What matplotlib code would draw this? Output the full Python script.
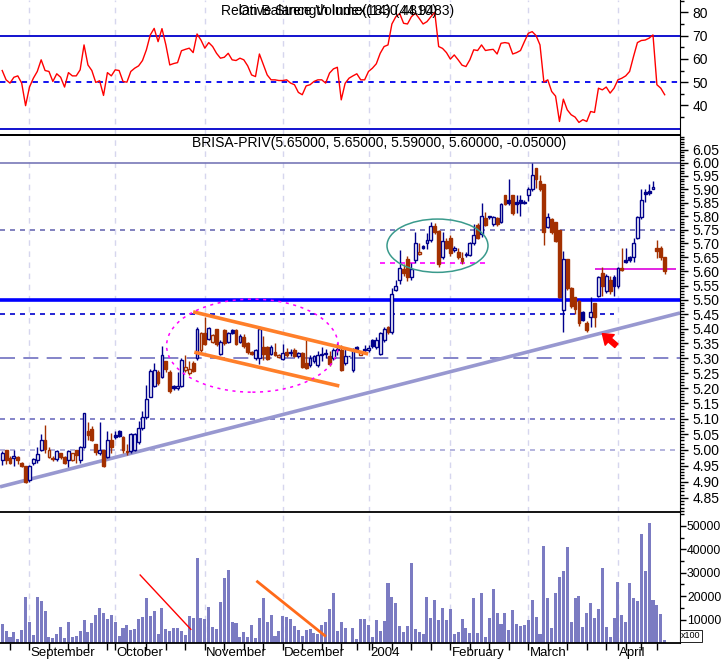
import numpy as np
import matplotlib
matplotlib.use("Agg")
import matplotlib.pyplot as plt
from matplotlib.patches import Ellipse
from matplotlib.ticker import NullFormatter
import matplotlib.transforms as mtrans

plt.rcParams['font.family'] = ['Liberation Sans', 'DejaVu Sans']

# ---------------- data ----------------
ohlc = [
 (4.968,4.997,4.952,4.989),(4.999,5.000,4.955,4.968),(4.975,4.980,4.955,4.958),(4.975,4.998,4.948,4.980),
 (4.978,4.982,4.955,4.968),(4.958,4.962,4.945,4.949),(4.948,4.950,4.897,4.900),(4.905,4.952,4.900,4.950),
 (4.957,4.975,4.952,4.970),(4.969,5.010,4.960,4.988),(4.999,5.050,4.995,5.031),(5.031,5.078,4.990,5.002),
 (4.978,5.010,4.975,4.999),(4.974,4.980,4.965,4.970),(4.970,4.998,4.965,4.997),(4.989,4.990,4.970,4.978),
 (4.978,4.980,4.955,4.958),(4.968,5.000,4.947,4.997),(4.968,4.990,4.965,4.989),(4.999,5.000,4.960,4.985),
 (4.968,5.012,4.958,5.010),(5.010,5.120,5.005,5.119),(5.060,5.090,5.030,5.047),(5.068,5.075,5.028,5.031),
 (5.018,5.020,4.985,4.993),(4.990,5.090,4.985,4.998),(4.999,5.000,4.945,4.948),(4.978,5.060,4.975,5.031),
 (5.031,5.055,4.990,5.010),(5.047,5.060,5.035,5.042),(5.060,5.062,5.040,5.045),(5.042,5.045,4.990,5.001),
 (4.995,5.020,4.985,4.992),(4.995,5.055,4.990,5.050),(5.000,5.055,4.995,5.052),(5.026,5.092,5.020,5.070),
 (5.070,5.126,5.065,5.104),(5.104,5.210,5.100,5.165),(5.172,5.265,5.170,5.257),(5.208,5.285,5.205,5.260),
 (5.255,5.260,5.210,5.216),(5.237,5.342,5.232,5.312),(5.290,5.290,5.255,5.262),(5.255,5.260,5.185,5.190),
 (5.207,5.210,5.195,5.200),(5.200,5.255,5.195,5.206),(5.207,5.300,5.205,5.295),(5.260,5.310,5.255,5.270),
 (5.250,5.290,5.245,5.262),(5.283,5.290,5.255,5.258),(5.300,5.405,5.295,5.400),(5.326,5.390,5.320,5.385),
 (5.385,5.440,5.345,5.348),(5.365,5.405,5.360,5.403),(5.354,5.380,5.350,5.378),(5.400,5.400,5.340,5.348),
 (5.315,5.360,5.310,5.354),(5.395,5.400,5.345,5.350),(5.354,5.390,5.350,5.385),(5.395,5.400,5.380,5.386),
 (5.395,5.400,5.345,5.348),(5.356,5.380,5.350,5.376),(5.372,5.380,5.335,5.341),(5.350,5.355,5.315,5.322),
 (5.322,5.325,5.310,5.315),(5.300,5.330,5.295,5.327),(5.302,5.410,5.280,5.400),(5.339,5.376,5.294,5.315),
 (5.337,5.340,5.295,5.298),(5.315,5.345,5.310,5.339),(5.320,5.350,5.306,5.311),(5.303,5.315,5.300,5.309),
 (5.298,5.346,5.295,5.317),(5.320,5.334,5.305,5.311),(5.318,5.330,5.306,5.320),(5.327,5.335,5.305,5.308),
 (5.306,5.320,5.300,5.317),(5.317,5.320,5.268,5.270),(5.285,5.360,5.265,5.268),(5.276,5.310,5.270,5.300),
 (5.290,5.310,5.285,5.306),(5.276,5.325,5.270,5.310),(5.312,5.336,5.290,5.315),(5.314,5.330,5.300,5.316),
 (5.306,5.325,5.275,5.279),(5.300,5.335,5.295,5.328),(5.329,5.350,5.310,5.330),(5.328,5.343,5.257,5.259),
 (5.282,5.330,5.278,5.306),(5.306,5.306,5.306,5.306),(5.259,5.335,5.255,5.328),(5.338,5.340,5.325,5.330),
 (5.311,5.325,5.310,5.322),(5.328,5.345,5.320,5.331),(5.328,5.345,5.320,5.334),(5.360,5.365,5.335,5.340),
 (5.338,5.370,5.330,5.362),(5.315,5.390,5.310,5.385),(5.360,5.405,5.355,5.400),(5.405,5.410,5.380,5.388),
 (5.390,5.540,5.380,5.520),(5.535,5.570,5.530,5.550),(5.568,5.675,5.555,5.612),(5.610,5.625,5.585,5.595),
 (5.645,5.655,5.565,5.580),(5.580,5.630,5.570,5.610),(5.640,5.740,5.630,5.700),(5.663,5.700,5.660,5.671),
 (5.690,5.695,5.680,5.685),(5.703,5.738,5.680,5.711),(5.711,5.778,5.705,5.762),(5.765,5.775,5.735,5.740),
 (5.745,5.750,5.615,5.625),(5.653,5.740,5.645,5.710),(5.710,5.720,5.680,5.685),(5.720,5.730,5.655,5.665),
 (5.675,5.690,5.670,5.685),(5.670,5.685,5.645,5.650),(5.648,5.670,5.625,5.638),(5.660,5.670,5.650,5.662),
 (5.660,5.705,5.655,5.700),(5.700,5.770,5.695,5.730),(5.769,5.775,5.715,5.721),(5.733,5.848,5.725,5.802),
 (5.792,5.815,5.765,5.769),(5.800,5.802,5.790,5.795),(5.770,5.802,5.765,5.798),(5.792,5.795,5.765,5.770),
 (5.780,5.850,5.775,5.845),(5.878,5.880,5.840,5.843),(5.858,5.940,5.842,5.848),(5.878,5.880,5.805,5.810),
 (5.853,5.880,5.810,5.846),(5.858,5.880,5.800,5.848),(5.850,5.860,5.845,5.852),(5.880,5.910,5.855,5.900),
 (5.900,6.000,5.895,5.953),(5.980,5.980,5.905,5.937),(5.930,5.955,5.895,5.900),(5.920,5.920,5.695,5.742),
 (5.760,5.810,5.755,5.795),(5.790,5.792,5.735,5.740),(5.780,5.780,5.705,5.710),(5.750,5.750,5.505,5.510),
 (5.466,5.672,5.389,5.643),(5.643,5.645,5.535,5.540),(5.540,5.545,5.470,5.477),(5.510,5.510,5.450,5.468),
 (5.497,5.500,5.410,5.420),(5.458,5.460,5.425,5.430),(5.420,5.425,5.389,5.394),(5.439,5.510,5.407,5.456),
 (5.490,5.490,5.407,5.439),(5.514,5.585,5.510,5.580),(5.594,5.616,5.514,5.550),(5.531,5.591,5.522,5.582),
 (5.568,5.582,5.520,5.531),(5.580,5.586,5.512,5.550),(5.549,5.616,5.540,5.613),(5.613,5.682,5.603,5.606),
 (5.640,5.682,5.630,5.632),(5.650,5.655,5.635,5.640),(5.652,5.721,5.634,5.702),(5.721,5.800,5.715,5.797),
 (5.795,5.900,5.790,5.860),(5.891,5.900,5.852,5.882),(5.892,5.920,5.880,5.884),(5.900,5.931,5.900,5.910),
 (5.684,5.712,5.646,5.673),(5.682,5.690,5.642,5.650),(5.650,5.650,5.590,5.600),
]
opens = [r[0] for r in ohlc]
highs = [r[1] for r in ohlc]
lows = [r[2] for r in ohlc]
closes = [r[3] for r in ohlc]

volume = [
 8000,5000,2700,4800,1850,5400,19500,8800,3560,19500,18100,13500,2700,2280,4000,6700,2280,8800,2700,2850,
 5000,9700,4560,8400,11800,14800,13000,10100,12100,8800,3130,6400,7800,5560,6100,10100,11000,19400,11700,13800,
 3700,14800,5840,5270,6270,6550,5000,3560,11400,10550,36200,10800,10100,15400,7000,6100,17700,27900,31000,8800,
 8400,2700,4560,2700,7800,2280,10700,19400,9000,11800,3000,5270,11700,11000,10400,7400,5700,2850,5560,5840,
 4280,4000,7700,8800,14700,21400,5000,8800,6270,0,6270,1850,10400,10100,7840,2700,9690,5130,9260,25650,
 19670,16960,7270,4700,7125,34340,5840,4700,3700,19670,10550,18530,9690,14820,9830,14390,3850,4700,10100,6550,
 4280,19240,4130,21230,2500,10550,22940,12970,7980,12970,5420,14250,7980,7270,7550,9690,18240,11260,3700,41470,
 19100,6550,21520,28360,30640,40900,8980,19100,20090,6980,12970,16960,10690,14390,32200,6700,2700,10550,26080,11830,
 9120,25510,19380,17960,46740,30640,51160,18530,16390,12540,1280,
]

rsi = [
 55.0,51.0,49.6,52.1,52.7,49.6,39.9,47.9,51.7,54.6,59.6,55.0,54.6,50.3,53.6,52.1,47.9,54.1,52.7,52.7,
 55.3,66.0,57.4,55.0,49.9,50.6,44.3,54.1,52.7,55.3,55.0,50.3,50.0,54.6,56.0,57.0,59.3,63.9,70.3,73.1,
 67.4,73.0,66.0,57.4,58.0,58.4,63.5,64.1,64.6,62.7,70.7,68.1,64.6,67.0,65.3,62.4,60.3,60.7,62.4,59.6,
 59.3,60.3,59.6,57.0,53.1,52.4,62.1,57.6,53.1,51.0,51.0,50.7,50.7,51.0,49.6,48.9,45.6,44.6,48.4,48.9,
 50.3,51.0,51.0,49.6,53.9,55.7,56.4,42.4,49.5,51.7,52.7,53.6,51.0,51.0,54.6,56.0,57.9,62.4,65.3,66.0,
 75.0,78.1,79.5,75.3,75.0,78.1,79.6,77.4,75.0,76.0,78.1,80.0,65.3,64.5,62.7,59.9,61.7,59.6,57.3,56.7,
 59.6,63.9,63.6,66.0,63.6,63.9,64.1,62.1,66.7,67.0,66.7,62.1,62.7,63.6,67.4,71.0,71.7,70.0,66.0,50.0,
 51.0,46.0,44.0,33.1,42.7,38.1,36.0,35.0,32.7,33.9,33.1,37.4,37.0,47.4,46.7,47.9,45.3,47.4,51.0,51.7,
 52.7,54.6,61.0,67.0,67.9,68.1,68.9,70.3,48.9,47.4,44.6,
]

month_labels = ['September', 'October', 'November', 'December', '2004', 'February', 'March', 'April']
month_starts = [7, 29, 52, 72, 94, 115, 135, 158]
week_ticks = [2, 12, 17, 22, 27, 32, 37, 42, 47, 57, 62, 67, 77, 82, 87, 91, 95, 100, 105,
              110, 120, 125, 130, 140, 145, 150, 155, 160, 164, 168]
price_ticks = [4.85, 4.90, 4.95, 5.00, 5.05, 5.10, 5.15, 5.20, 5.25, 5.30, 5.35, 5.40, 5.45,
               5.50, 5.55, 5.60, 5.65, 5.70, 5.75, 5.80, 5.85, 5.90, 5.95, 6.00, 6.05]
rsi_ticks = [40, 50, 60, 70, 80]
vol_ticks = [10000, 20000, 30000, 40000, 50000]

# drawn annotation objects (data coordinates)
trend_line = ([-0.565, 173.93], [4.884, 5.454])
channel_upper = ([49.0, 93.9], [5.458, 5.314])
channel_lower = ([49.3, 86.5], [5.320, 5.207])
vol_red_line = ([35.4, 48.4], [29060, 5850])
vol_orange_line = ([65.5, 82.8], [26200, 3120])

N = len(closes)
x = np.arange(N)
W, H = 724, 660
XL = (-0.565, 173.93)

fig = plt.figure(figsize=(W / 100, H / 100), dpi=100)
fig.patch.set_facecolor('white')


def rect(top, bottom):
    return [0, 1 - bottom / H, 680 / W, (bottom - top) / H]


ax_r = fig.add_axes(rect(0, 135))
ax_p = fig.add_axes(rect(135, 512))
ax_v = fig.add_axes(rect(512, 643))

GRID = '#d6d6ee'
for ax in (ax_r, ax_p, ax_v):
    ax.set_xlim(*XL)
    for m in month_starts:
        ax.axvline(m, color=GRID, lw=1, ls=(0, (4, 4)), zorder=0)
    ax.spines['left'].set_visible(False)
    ax.spines['top'].set_visible(False)
    ax.spines['right'].set_color('black')
    ax.spines['bottom'].set_color('black')
    ax.spines['bottom'].set_linewidth(1.3)
    ax.yaxis.tick_right()
    ax.tick_params(axis='x', which='both', length=0, labelbottom=False)
    ax.tick_params(axis='y', which='major', length=6, direction='out', labelsize=10, pad=3, width=1)
    ax.tick_params(axis='y', which='minor', length=3, direction='out', width=1)
    ax.patch.set_alpha(0)

# ---------------- RSI panel ----------------
ax_r.set_ylim(27.3, 85.3)
ax_r.axhline(70, color='#0000cc', lw=1.3)
ax_r.axhline(30, color='#0000cc', lw=1.3)
ax_r.axhline(50, color='#0000ee', lw=1.3, ls=(0, (3, 3)))
ax_r.plot(x, rsi, color='#ff0000', lw=1)
ax_r.set_yticks(rsi_ticks)
ax_r.set_yticks([35, 45, 55, 65, 75, 85], minor=True)
ax_r.yaxis.set_minor_formatter(NullFormatter())
# the reference shows these two indicator titles printed on top of each other
fig.text(338 / W, 1 - 11 / H, 'Relative Strength Index(14) (44.9483)', ha='center', va='center', fontsize=10)
fig.text(338 / W, 1 - 11 / H, 'On Balance Volume(1830.4810)', ha='center', va='center', fontsize=10)

# ---------------- price panel ----------------
ax_p.set_yscale('log')
ax_p.set_ylim(4.8066, 6.1065)
ax_p.set_xlim(*XL)

ax_p.axhline(6.00, color='#7878b8', lw=1.2, zorder=1)
ax_p.axhline(5.75, color='#6c6cb4', lw=1.2, ls=(0, (3, 3)), zorder=1)
ax_p.axhline(5.50, color='#0000ff', lw=2.6, zorder=1)
ax_p.hlines(5.45, XL[0], 157.1, color='#0000cc', lw=1.2, ls=(0, (3, 3)), zorder=1)
ax_p.axhline(5.30, color='#7070c0', lw=1.2, ls=(0, (9, 5)), zorder=1)
ax_p.axhline(5.10, color='#7070c0', lw=1.2, ls=(0, (3, 3)), zorder=1)
ax_p.axhline(5.00, color='#a8a8d8', lw=1.2, ls=(0, (3, 3)), zorder=1)
ax_p.hlines(5.631, 96.9, 123.8, color='#ff00ff', lw=1.2, ls=(0, (3, 3)), zorder=1)
ax_p.hlines(5.608, 152.0, 172.9, color='#dd00dd', lw=1.2, zorder=1)

ax_p.plot(*trend_line, color='#9898d0', lw=2.6, zorder=2, solid_capstyle='butt')

BLUE = '#00008b'
BROWN = '#a33000'
cols, faces, bottoms, heights = [], [], [], []
for i in range(N):
    o, c = opens[i], closes[i]
    prev = closes[i - 1] if i > 0 else o
    col = BLUE if c >= prev else BROWN
    cols.append(col)
    faces.append(col if c < o else 'white')
    lo_b, hi_b = min(o, c), max(o, c)
    if hi_b - lo_b < 0.002:
        hi_b = lo_b + 0.002
    bottoms.append(lo_b)
    heights.append(hi_b - lo_b)

ax_p.vlines(x, lows, highs, colors=cols, lw=1, zorder=3)
ax_p.bar(x, heights, bottom=bottoms, width=0.72, color=faces, edgecolor=cols, linewidth=1, zorder=4)

ax_p.plot(*channel_upper, color='#ff7f2a', lw=2.6, zorder=5, solid_capstyle='butt')
ax_p.plot(*channel_lower, color='#ff7f2a', lw=2.6, zorder=5, solid_capstyle='butt')

to_axes = ax_p.transData + ax_p.transAxes.inverted()
pw, ph = 680.0, 377.0
c1 = to_axes.transform((64.2, 5.342))
ax_p.add_patch(Ellipse(c1, 171.6 / pw, 93 / ph, transform=ax_p.transAxes, fill=False,
                       edgecolor='#ff00ff', lw=1.1, ls=(0, (2, 3)), zorder=6))
c2 = to_axes.transform((111.7, 5.692))
ax_p.add_patch(Ellipse(c2, 101 / pw, 53.3 / ph, transform=ax_p.transAxes, fill=False,
                       edgecolor='#3a9a8c', lw=1.1, zorder=6))

ax_p.annotate('', xy=(154.0, 5.383), xytext=(157.6, 5.342),
              arrowprops=dict(facecolor='#ff0000', edgecolor='#ff0000', width=3.5,
                              headwidth=10, headlength=7), zorder=7)

ax_p.set_yticks(price_ticks)
ax_p.set_yticklabels(['%.2f' % t for t in price_ticks])
ax_p.set_yticks(list(np.round(np.arange(4.81, 6.105, 0.01), 2)), minor=True)
ax_p.yaxis.set_minor_formatter(NullFormatter())
ax_p.spines['top'].set_visible(True)
ax_p.spines['top'].set_color('black')
ax_p.spines['top'].set_linewidth(1.3)

fig.text(192 / W, 1 - 143 / H, 'BRISA-PRIV(5.65000, 5.65000, 5.59000, 5.60000, -0.05000)',
         ha='left', va='center', fontsize=10)

# ---------------- volume panel ----------------
ax_v.set_ylim(0, 55980)
ax_v.bar(x, volume, width=0.78, color='#7b7bc2', edgecolor='none', zorder=2)
ax_v.plot(*vol_red_line, color='#ff0000', lw=1, zorder=3)
ax_v.plot(*vol_orange_line, color='#ff6a1a', lw=2, zorder=3)
ax_v.set_yticks(vol_ticks)
ax_v.set_yticklabels(['%d' % t for t in vol_ticks])
ax_v.set_yticks([5000, 15000, 25000, 35000, 45000, 55000], minor=True)
ax_v.yaxis.set_minor_formatter(NullFormatter())
ax_v.tick_params(axis='y', which='major', length=4, labelsize=8.8, pad=1)
ax_v.tick_params(axis='x', which='both', length=5, direction='out', width=1, labelbottom=False)
ax_v.set_xticks(month_starts)
ax_v.set_xticks(week_ticks, minor=True)

blend = mtrans.blended_transform_factory(ax_v.transData, ax_v.transAxes)
for m, lab in zip(month_starts, month_labels):
    ax_v.text(m + 0.35, -10 / 131, lab, transform=blend, ha='left', va='center', fontsize=9.5)

fig.text(691 / W, 1 - 636 / H, 'x100', ha='center', va='center', fontsize=6.5,
         bbox=dict(boxstyle='square,pad=0.15', facecolor='white', edgecolor='black', lw=0.6))

fig.savefig('out.png', dpi=100)
